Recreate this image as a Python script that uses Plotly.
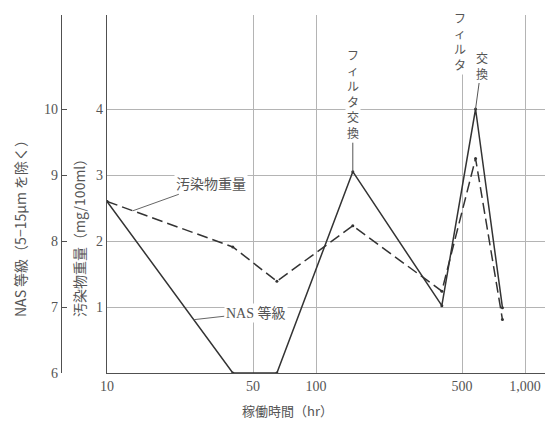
import numpy as np
import plotly.graph_objects as go

# ---- data ----
hours = [10, 40, 65, 150, 400, 580, 780]
nas_class = [8.6, 6.0, 6.0, 9.05, 7.02, 10.0, 6.99]
contaminant_mg = [2.6, 1.91, 1.39, 2.23, 1.24, 3.25, 0.81]

x_tick_vals = [10, 50, 100, 500, 1000]
x_tick_text = ["10", "50", "100", "500", "1,000"]
nas_ticks = [6, 7, 8, 9, 10]
mg_ticks = [1, 2, 3, 4]

# ---- layout geometry ----
W, H = 553, 421
ML, MR, MT, MB = 0, 8, 15, 48
PW, PH = W - ML - MR, H - MT - MB
Y0 = H - MB  # pixel y of plot bottom


def px(X):
    return (X - ML) / PW


def py(Y):
    return (Y0 - Y) / PH


PX_PER_UNIT = 66.0
span = PH / PX_PER_UNIT

serif = "Liberation Serif, Noto Sans CJK JP"
cjk = "Noto Sans CJK JP, Liberation Serif"
txt = "#555555"
linec = "#333333"
gridc = "#b4b4b4"
axc = "#505050"

fig = go.Figure()
fig.add_trace(go.Scatter(
    x=hours, y=contaminant_mg, mode="lines+markers", yaxis="y",
    line=dict(color=linec, width=1.5, dash="11px,5px"),
    marker=dict(size=3, color=linec), showlegend=False))
fig.add_trace(go.Scatter(
    x=hours, y=nas_class, mode="lines+markers", yaxis="y2",
    line=dict(color=linec, width=1.5),
    marker=dict(size=3, color=linec), showlegend=False))

fig.update_layout(
    width=W, height=H,
    margin=dict(l=ML, r=MR, t=MT, b=MB, autoexpand=False),
    paper_bgcolor="white", plot_bgcolor="white",
    font=dict(family=serif, color=txt, size=14),
    xaxis=dict(
        type="log", domain=[px(107), 1],
        range=[1, np.log10(10) + (545 - 107) / 209.0],
        tickvals=x_tick_vals, ticktext=x_tick_text,
        showgrid=True, gridcolor=gridc, gridwidth=1,
        showline=True, linecolor=axc, linewidth=1.3,
        ticks="", zeroline=False,
        tickfont=dict(family=serif, size=14, color=txt),
    ),
    yaxis=dict(
        range=[0, span], anchor="x", side="left",
        tickvals=mg_ticks, showgrid=True, gridcolor=gridc, gridwidth=1,
        showline=True, linecolor=axc, linewidth=1.3,
        ticks="", zeroline=False,
        tickfont=dict(family=serif, size=14, color=txt),
    ),
    yaxis2=dict(
        range=[6, 6 + span], overlaying="y", anchor="free",
        position=px(61), side="left",
        tickvals=nas_ticks, showgrid=False,
        showline=True, linecolor=axc, linewidth=1.3,
        ticks="inside", ticklen=5, tickcolor=axc,
        zeroline=False,
        tickfont=dict(family=serif, size=14, color=txt),
    ),
)

ann = []
C = dict(xanchor="center", yanchor="middle")
# axis titles
ann.append(dict(xref="paper", yref="paper", x=px(20), y=py(225),
                text="NAS 等級（5−15μm を除く）", textangle=-90,
                showarrow=False, font=dict(family=cjk, size=14, color=txt), **C))
ann.append(dict(xref="paper", yref="paper", x=px(79), y=py(235),
                text="汚染物重量（mg/100ml）", textangle=-90,
                showarrow=False, font=dict(family=cjk, size=14, color=txt), **C))
ann.append(dict(xref="paper", yref="paper", x=px(287), y=py(410),
                text="稼働時間（hr）", showarrow=False,
                font=dict(family=cjk, size=13, color=txt), **C))

# filter change notes
ann.append(dict(x=np.log10(hours[3]), y=nas_class[3], xref="x", yref="y2",
                text="フ<br>ィ<br>ル<br>タ<br>交<br>換",
                showarrow=True, arrowhead=0, arrowwidth=1, arrowcolor="#555",
                ax=0, ay=-78, bgcolor="white",
                font=dict(family=cjk, size=12, color=txt)))
ann.append(dict(xref="paper", yref="paper", x=px(460), y=py(41),
                text="フ<br>ィ<br>ル<br>タ", showarrow=False, bgcolor="white",
                font=dict(family=cjk, size=12, color=txt), **C))
ann.append(dict(x=np.log10(hours[5]), y=nas_class[5], xref="x", yref="y2",
                text="交<br>換",
                showarrow=True, arrowhead=0, arrowwidth=1, arrowcolor="#555",
                ax=6, ay=-44, bgcolor="white",
                font=dict(family=cjk, size=12, color=txt)))

# series labels with leader lines
lx = 13.3
ly = float(np.interp(np.log10(lx), np.log10(hours[:2]), contaminant_mg[:2]))
ann.append(dict(x=np.log10(lx), y=ly, xref="x", yref="y",
                text="汚染物重量", showarrow=True, arrowhead=0,
                arrowwidth=1, arrowcolor="#666", ax=78, ay=-28,
                bgcolor="white", font=dict(family=cjk, size=14, color=txt)))
nx = 26
ny = float(np.interp(np.log10(nx), np.log10(hours[:2]), nas_class[:2]))
ann.append(dict(x=np.log10(nx), y=ny, xref="x", yref="y2",
                text="NAS 等級", showarrow=True, arrowhead=0,
                arrowwidth=1, arrowcolor="#666", ax=62, ay=-7,
                bgcolor="white", font=dict(family=serif, size=14, color=txt)))

fig.update_layout(annotations=ann)
fig.write_html("out.html", config={"displayModeBar": False},
               post_script="document.body.style.margin='0px';")
